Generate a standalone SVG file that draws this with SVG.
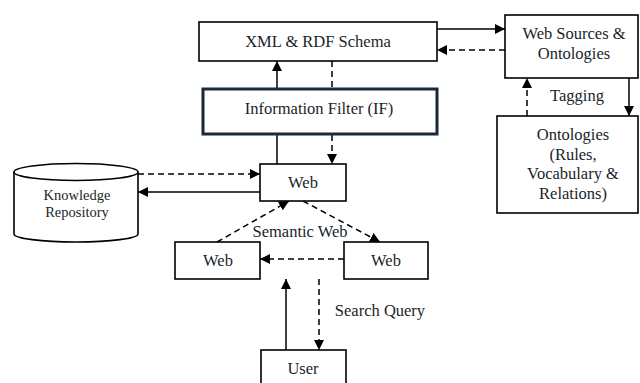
<svg xmlns="http://www.w3.org/2000/svg" width="640" height="383" viewBox="0 0 640 383">
  <defs>
    <marker id="ah" viewBox="0 0 10 10" refX="10" refY="5" markerWidth="10" markerHeight="10" markerUnits="userSpaceOnUse" orient="auto">
      <path d="M0,0 L10,5 L0,10 z" fill="#000"/>
    </marker>
  </defs>
  <style>
    .box { fill: #fff; stroke: #000; stroke-width: 1.6; }
    .thick { fill: #fff; stroke: #1b2838; stroke-width: 3; }
    .t { font-family: "Liberation Serif", "Times New Roman", serif; font-size: 16.5px; fill: #1a1f2a; text-anchor: middle; dominant-baseline: central; }
    .ts { font-size: 14.5px; }
    .solid { stroke: #000; stroke-width: 1.5; fill: none; }
    .dash { stroke: #000; stroke-width: 1.5; fill: none; stroke-dasharray: 6 4; }
  </style>
  <rect width="640" height="383" fill="#fff"/>

  <g id="connectors">
    <!-- XML <-> Web Sources -->
    <line class="solid" x1="437" y1="29" x2="505" y2="29" marker-end="url(#ah)"/>
    <line class="dash" x1="505" y1="50" x2="437" y2="50" marker-end="url(#ah)"/>
    <!-- Web Sources <-> Ontologies -->
    <line class="dash" x1="527" y1="116" x2="527" y2="78" marker-end="url(#ah)"/>
    <line class="solid" x1="629" y1="78" x2="629" y2="116" marker-end="url(#ah)"/>
    <!-- IF -> XML, XML dashed down to Web -->
    <line class="solid" x1="277" y1="88" x2="277" y2="61" marker-end="url(#ah)"/>
    <line class="dash" x1="332" y1="61" x2="332" y2="88"/>
    <line class="solid" x1="277" y1="135" x2="277" y2="164"/>
    <line class="dash" x1="332" y1="135" x2="332" y2="164" marker-end="url(#ah)"/>
    <!-- Knowledge Repository <-> Web -->
    <line class="dash" x1="138" y1="174" x2="260" y2="174" marker-end="url(#ah)"/>
    <line class="solid" x1="260" y1="192" x2="138" y2="192" marker-end="url(#ah)"/>
    <!-- Semantic Web triangle -->
    <line class="dash" x1="217" y1="242" x2="289" y2="201" marker-end="url(#ah)"/>
    <line class="dash" x1="303" y1="201" x2="380" y2="242" marker-end="url(#ah)"/>
    <line class="dash" x1="344" y1="259" x2="260" y2="259" marker-end="url(#ah)"/>
    <!-- User <-> Web -->
    <line class="solid" x1="286" y1="350" x2="286" y2="279" marker-end="url(#ah)"/>
    <line class="dash" x1="319" y1="279" x2="319" y2="350" marker-end="url(#ah)"/>
  </g>

  <g id="xml-rdf">
    <rect class="box" x="199" y="22" width="238" height="39"/>
    <text class="t" x="318" y="41">XML &amp; RDF Schema</text>
  </g>

  <g id="info-filter">
    <rect class="thick" x="203" y="89" width="234" height="45"/>
    <text class="t" x="319" y="108">Information Filter (IF)</text>
  </g>

  <g id="web-sources">
    <rect class="box" x="505" y="15" width="133" height="63"/>
    <text class="t" x="574" y="33">Web Sources &amp;</text>
    <text class="t" x="574" y="53">Ontologies</text>
  </g>

  <g id="tagging-label">
    <text class="t" x="577" y="95">Tagging</text>
  </g>

  <g id="ontologies">
    <rect class="box" x="497" y="116" width="141" height="97"/>
    <text class="t" x="573" y="134">Ontologies</text>
    <text class="t" x="573" y="154">(Rules,</text>
    <text class="t" x="573" y="173">Vocabulary &amp;</text>
    <text class="t" x="573" y="193">Relations)</text>
  </g>

  <g id="knowledge-repository">
    <path class="box" d="M14,172 L14,234 A62,8 0 0 0 138,234 L138,172"/>
    <ellipse class="box" cx="76" cy="172" rx="62" ry="8.5"/>
    <text class="t ts" x="77" y="195">Knowledge</text>
    <text class="t ts" x="77" y="212">Repository</text>
  </g>

  <g id="web-top">
    <rect class="box" x="260" y="164" width="86" height="37"/>
    <text class="t" x="303" y="182">Web</text>
  </g>

  <g id="semantic-label">
    <text class="t" x="300" y="231">Semantic Web</text>
  </g>

  <g id="web-left">
    <rect class="box" x="175" y="242" width="85" height="37"/>
    <text class="t" x="218" y="260">Web</text>
  </g>

  <g id="web-right">
    <rect class="box" x="344" y="242" width="84" height="37"/>
    <text class="t" x="386" y="260">Web</text>
  </g>

  <g id="search-label">
    <text class="t" x="380" y="310">Search Query</text>
  </g>

  <g id="user">
    <rect class="box" x="261" y="350" width="85" height="40"/>
    <text class="t" x="303" y="368">User</text>
  </g>
</svg>
